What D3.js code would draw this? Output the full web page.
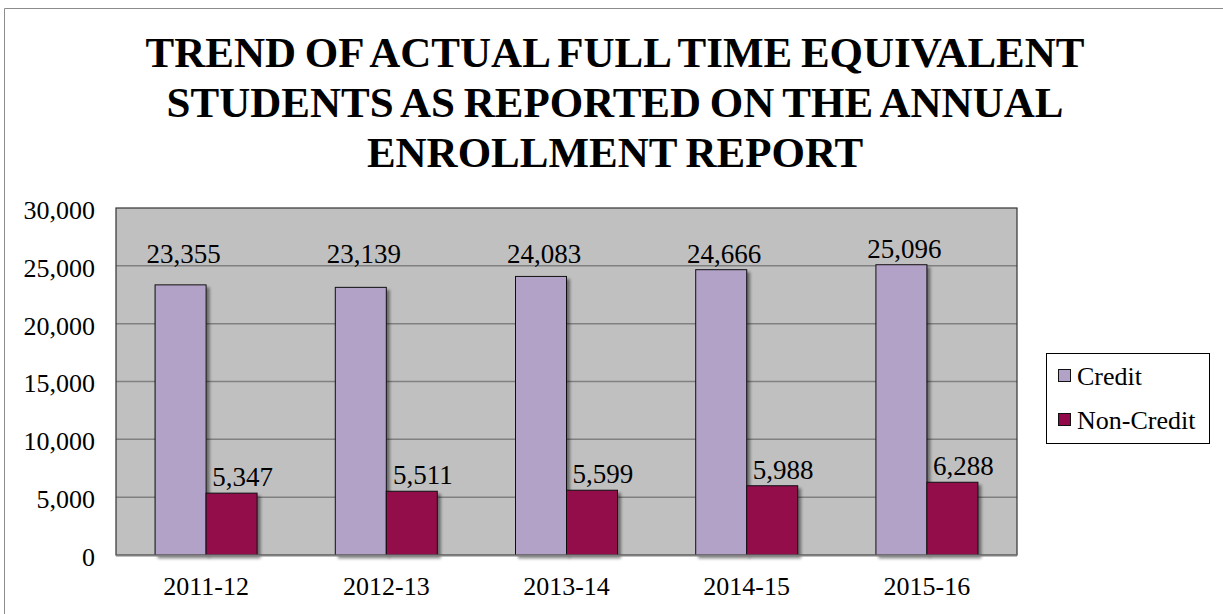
<!DOCTYPE html>
<html>
<head>
<meta charset="utf-8">
<script src="https://cdn.jsdelivr.net/npm/d3@7/dist/d3.min.js"></script>
<style>
  html, body { margin: 0; padding: 0; background: #fff; }
  svg { display: block; }
</style>
</head>
<body>
<svg id="chart" width="1223" height="614"></svg>
<script>
const titleLines = [
  "TREND OF ACTUAL FULL TIME EQUIVALENT",
  "STUDENTS AS REPORTED ON THE ANNUAL",
  "ENROLLMENT REPORT"
];
const categories = ["2011-12", "2012-13", "2013-14", "2014-15", "2015-16"];
const seriesNames = ["Credit", "Non-Credit"];
const creditValues = [23355, 23139, 24083, 24666, 25096];
const nonCreditValues = [5347, 5511, 5599, 5988, 6288];
const yTicks = [0, 5000, 10000, 15000, 20000, 25000, 30000];
const colors = ["#B3A2C7", "#93074B"];

const FONT = "'Liberation Serif', 'Times New Roman', serif";
const svg = d3.select("#chart");
const W = 1223, H = 614;
const plot = { left: 116, right: 1017, top: 208, bottom: 555 };

// outer chart border
svg.append("path")
  .attr("d", `M4.5,${H} L4.5,8.5 L${W},8.5`)
  .attr("fill", "none").attr("stroke", "#8c8c8c").attr("stroke-width", 1);

// Title
const title = svg.append("text")
  .attr("text-anchor", "middle")
  .style("font-family", FONT)
  .style("font-weight", "bold")
  .style("font-size", "43px")
  .style("word-spacing", "-2px");
titleLines.forEach((l, i) => {
  title.append("tspan").attr("x", 615).attr("y", 67 + i * 50).text(l);
});

const x = d3.scaleBand().domain(categories).range([plot.left, plot.right])
  .paddingInner(0.434).paddingOuter(0.217);
const xs = d3.scaleBand().domain(seriesNames).range([0, x.bandwidth()]);
const y = d3.scaleLinear().domain([0, 30000]).range([plot.bottom, plot.top]);

// plot background
svg.append("rect")
  .attr("x", plot.left).attr("y", plot.top)
  .attr("width", plot.right - plot.left).attr("height", plot.bottom - plot.top)
  .attr("fill", "#C0C0C0");

// gridlines
svg.append("g").selectAll("line").data(yTicks.filter(t => t > 0 && t < 30000)).join("line")
  .attr("x1", plot.left).attr("x2", plot.right)
  .attr("y1", d => y(d)).attr("y2", d => y(d))
  .attr("stroke", "#808080").attr("stroke-width", 1.5);

// plot frame
svg.append("rect")
  .attr("x", plot.left).attr("y", plot.top)
  .attr("width", plot.right - plot.left).attr("height", plot.bottom - plot.top)
  .attr("fill", "none").attr("stroke", "#333").attr("stroke-width", 1.2);

// shadow filter
const defs = svg.append("defs");
const f = defs.append("filter").attr("id", "shadow").attr("x", "-20%").attr("y", "-5%").attr("width", "150%").attr("height", "120%");
f.append("feGaussianBlur").attr("in", "SourceAlpha").attr("stdDeviation", 1.5).attr("result", "b");
f.append("feOffset").attr("in", "b").attr("dx", 3).attr("dy", 3).attr("result", "o");
f.append("feComponentTransfer").attr("in", "o").attr("result", "s")
  .append("feFuncA").attr("type", "linear").attr("slope", 0.45);
const fm = f.append("feMerge");
fm.append("feMergeNode").attr("in", "s");
fm.append("feMergeNode").attr("in", "SourceGraphic");

const rows = categories.map((c, i) => ({ cat: c, vals: [creditValues[i], nonCreditValues[i]] }));

const groups = svg.append("g").selectAll("g").data(rows).join("g")
  .attr("transform", d => `translate(${x(d.cat)},0)`);

groups.selectAll("rect").data(d => d.vals.map((v, j) => ({ s: seriesNames[j], v, j }))).join("rect")
  .attr("x", d => xs(d.s)).attr("width", xs.bandwidth())
  .attr("y", d => y(d.v)).attr("height", d => y(0) - y(d.v))
  .attr("fill", d => colors[d.j])
  .attr("stroke", "#111").attr("stroke-width", 1)
  .attr("filter", "url(#shadow)");

// bottom axis line
svg.append("line")
  .attr("x1", plot.left).attr("x2", plot.right)
  .attr("y1", plot.bottom + 0.5).attr("y2", plot.bottom + 0.5)
  .attr("stroke", "#808080").attr("stroke-width", 2);

// data labels (credit labels kept above the 25,000 gridline, as in the original)
const fmt = d3.format(",");
groups.selectAll("text.lbl").data(d => d.vals.map((v, j) => ({ s: seriesNames[j], v, j }))).join("text")
  .attr("class", "lbl")
  .attr("text-anchor", "middle")
  .style("font-family", FONT)
  .style("font-size", "27px")
  .attr("fill", "#000")
  .attr("x", d => xs(d.s) + xs.bandwidth() / 2 + (d.j === 0 ? 3 : 11))
  .attr("y", d => d.j === 0 ? Math.min(y(d.v) - 7, y(25000) - 3) : y(d.v) - 7)
  .text(d => fmt(d.v));

// y axis labels
const yAxis = d3.axisLeft(y).tickValues(yTicks).tickFormat(fmt).tickSize(0).tickPadding(21);
const ya = svg.append("g").attr("transform", `translate(${plot.left},0)`).call(yAxis);
ya.select(".domain").remove();
ya.selectAll("text").style("font-size", "26px").style("font-family", FONT).attr("fill", "#000").attr("dy", "0.4em");

// x axis labels
const xAxis = d3.axisBottom(x).tickSize(0).tickPadding(22);
const xa = svg.append("g").attr("transform", `translate(0,${plot.bottom})`).call(xAxis);
xa.select(".domain").remove();
xa.selectAll("text").style("font-size", "26px").style("font-family", FONT).attr("fill", "#000");

// legend
const lg = svg.append("g");
lg.append("rect").attr("x", 1046.5).attr("y", 353.5).attr("width", 163).attr("height", 90)
  .attr("fill", "#fff").attr("stroke", "#000").attr("stroke-width", 1);
seriesNames.forEach((s, i) => {
  const yy = 376 + i * 44;
  lg.append("rect").attr("x", 1058.5).attr("y", yy - 6.5).attr("width", 12).attr("height", 12)
    .attr("fill", colors[i]).attr("stroke", "#111").attr("stroke-width", 1);
  lg.append("text").attr("x", 1077).attr("y", yy + 9)
    .style("font-family", FONT).style("font-size", "26px").attr("fill", "#000").text(s);
});
</script>
</body>
</html>
